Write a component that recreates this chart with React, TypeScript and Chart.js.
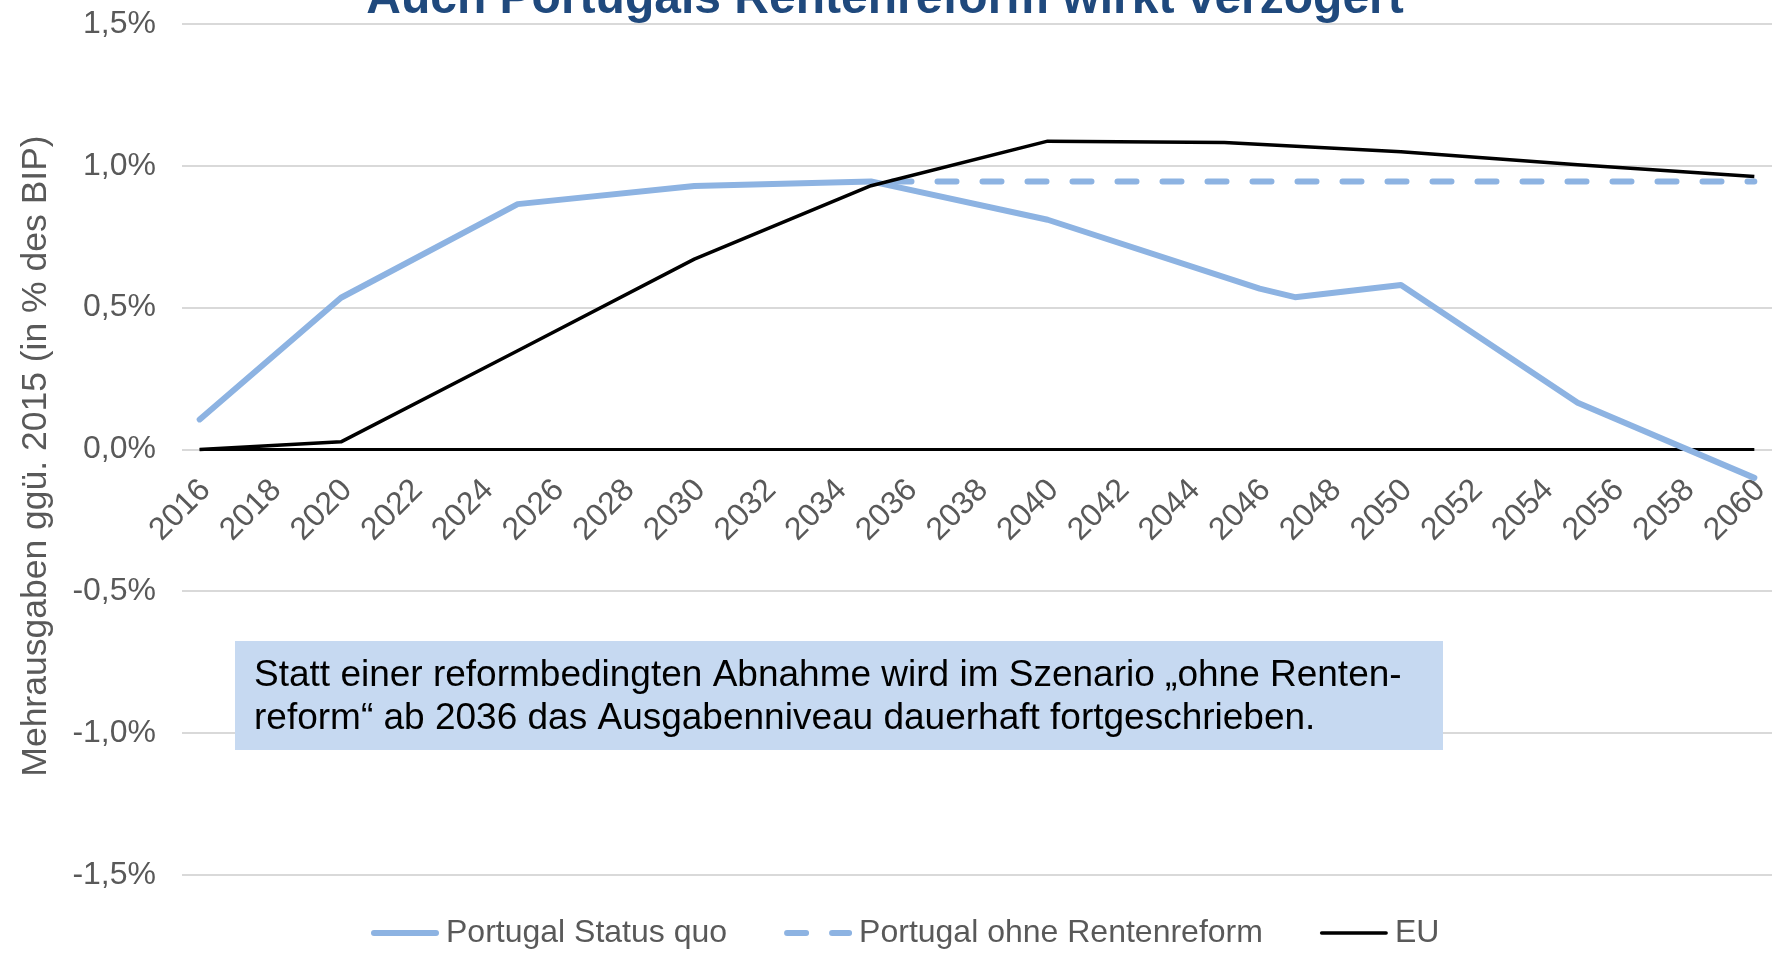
import React, { useEffect, useRef } from 'react';
import { Chart, registerables } from 'chart.js';

Chart.register(...registerables);

const FONT = '"Liberation Sans", Arial, sans-serif';

const years = [
  '2016', '2017', '2018', '2019', '2020', '2021', '2022', '2023', '2024', '2025',
  '2026', '2027', '2028', '2029', '2030', '2031', '2032', '2033', '2034', '2035',
  '2036', '2037', '2038', '2039', '2040', '2041', '2042', '2043', '2044', '2045',
  '2046', '2047', '2048', '2049', '2050', '2051', '2052', '2053', '2054', '2055',
  '2056', '2057', '2058', '2059', '2060',
];

// values in % of GDP, null = no reading (line spans straight across)
const statusQuo = [
  0.106, null, null, null, 0.535, null, null, null, null, 0.865,
  null, null, null, null, 0.929, null, null, null, null, 0.945,
  null, null, null, null, 0.81, null, null, null, null, null,
  0.567, 0.537, null, null, 0.58, null, null, null, null, 0.165,
  null, null, null, null, -0.1,
];

const ohneReform = [
  null, null, null, null, null, null, null, null, null, null,
  null, null, null, null, null, null, null, null, null, 0.945,
  null, null, null, null, 0.945, null, null, null, null, 0.945,
  null, null, null, null, 0.945, null, null, null, null, 0.945,
  null, null, null, null, 0.945,
];

const eu = [
  0.0, null, null, null, 0.027, null, null, null, null, 0.348,
  null, null, null, null, 0.671, null, null, null, null, 0.93,
  null, null, null, null, 1.087, null, null, null, null, 1.082,
  null, null, null, null, 1.05, null, null, null, null, 1.004,
  null, null, null, null, 0.962,
];

const zeroLine = [
  0, null, null, null, null, null, null, null, null, null,
  null, null, null, null, null, null, null, null, null, null,
  null, null, null, null, null, null, null, null, null, null,
  null, null, null, null, null, null, null, null, null, null,
  null, null, null, null, 0,
];

const seriesNames = ['Portugal Status quo', 'Portugal ohne Rentenreform', 'EU'];
const titleText = 'Auch Portugals Rentenreform wirkt verzögert';
const yTitleText = 'Mehrausgaben ggü. 2015 (in % des BIP)';
const noteLines = [
  'Statt einer reformbedingten Abnahme wird im Szenario „ohne Renten-',
  'reform“ ab 2036 das Ausgabenniveau dauerhaft fortgeschrieben.',
];

const BLUE = '#8DB3E2';
const GREY_TEXT = '#595959';

const overlayPlugin = {
  id: 'overlay',
  afterDraw(chart: any) {
    const ctx = chart.ctx as CanvasRenderingContext2D;
    ctx.save();
    // title
    ctx.font = `bold 48px ${FONT}`;
    ctx.fillStyle = '#1F497D';
    ctx.textAlign = 'center';
    ctx.textBaseline = 'alphabetic';
    ctx.fillText(titleText, 885, 13);

    // y axis title
    ctx.save();
    ctx.translate(36, 456);
    ctx.rotate(-Math.PI / 2);
    ctx.font = `35.5px ${FONT}`;
    ctx.fillStyle = GREY_TEXT;
    ctx.textAlign = 'center';
    ctx.textBaseline = 'middle';
    ctx.fillText(yTitleText, 0, 0);
    ctx.restore();

    // note box
    ctx.fillStyle = '#C6D9F1';
    ctx.fillRect(235, 641, 1208, 109);
    ctx.fillStyle = '#000000';
    ctx.font = `37px ${FONT}`;
    ctx.textAlign = 'left';
    ctx.textBaseline = 'middle';
    ctx.fillText(noteLines[0], 254, 676);
    ctx.fillText(noteLines[1], 254, 719);

    // legend
    const ly = 933;
    let x = 371;
    ctx.font = `32px ${FONT}`;
    for (let i = 0; i < 3; i++) {
      const ds = chart.data.datasets[i];
      ctx.beginPath();
      ctx.strokeStyle = ds.borderColor;
      ctx.lineWidth = ds.borderWidth;
      ctx.lineCap = 'round';
      ctx.setLineDash(ds.borderDash || []);
      ctx.lineDashOffset = 0;
      const hw = ds.borderWidth / 2;
      ctx.moveTo(x + hw, ly);
      ctx.lineTo(x + 68 - hw, ly);
      ctx.stroke();
      ctx.setLineDash([]);
      ctx.fillStyle = GREY_TEXT;
      ctx.textAlign = 'left';
      ctx.textBaseline = 'middle';
      ctx.fillText(ds.label, x + 75, ly);
      x += 75 + ctx.measureText(ds.label).width + 57;
    }
    ctx.restore();
  },
};

export default function App() {
  const canvasRef = useRef<HTMLCanvasElement | null>(null);

  useEffect(() => {
    if (!canvasRef.current) return;
    const chart = new Chart(canvasRef.current, {
      type: 'line',
      data: {
        labels: years,
        datasets: [
          {
            label: seriesNames[0],
            data: statusQuo,
            borderColor: BLUE,
            backgroundColor: BLUE,
            borderWidth: 6,
            borderCapStyle: 'round',
            borderJoinStyle: 'round',
            pointRadius: 0,
            spanGaps: true,
            order: 2,
          },
          {
            label: seriesNames[1],
            data: ohneReform,
            borderColor: BLUE,
            backgroundColor: BLUE,
            borderWidth: 6,
            borderDash: [19, 26],
            borderDashOffset: 23.5,
            borderCapStyle: 'round',
            pointRadius: 0,
            spanGaps: true,
            order: 1,
          },
          {
            label: seriesNames[2],
            data: eu,
            borderColor: '#000000',
            backgroundColor: '#000000',
            borderWidth: 3.5,
            borderJoinStyle: 'round',
            pointRadius: 0,
            spanGaps: true,
            order: 0,
          },
          {
            label: 'Null',
            data: zeroLine,
            borderColor: '#000000',
            backgroundColor: '#000000',
            borderWidth: 3,
            pointRadius: 0,
            spanGaps: true,
            order: 3,
          },
        ],
      },
      options: {
        responsive: false,
        animation: false,
        layout: { padding: { top: 24, right: 5, bottom: 84, left: 0 } },
        plugins: {
          legend: { display: false },
          title: { display: false },
          tooltip: { enabled: false },
        },
        scales: {
          x: {
            type: 'category',
            offset: true,
            position: { y: 0 },
            grid: { display: false },
            border: { display: false },
            afterFit: (scale: any) => {
              scale.height = 0;
              scale.paddingLeft = 0;
              scale.paddingRight = 0;
              scale.paddingTop = 0;
              scale.paddingBottom = 0;
            },
            ticks: {
              autoSkip: false,
              maxRotation: 45,
              minRotation: 45,
              padding: 14,
              labelOffset: 6,
              color: GREY_TEXT,
              font: { family: FONT, size: 32 },
              callback: (_v: any, i: number) => (i % 2 === 0 ? years[i] : ''),
            },
          },
          y: {
            min: -1.5,
            max: 1.5,
            afterFit: (scale: any) => {
              scale.width = 182;
              scale.paddingTop = 0;
              scale.paddingBottom = 0;
              scale.paddingLeft = 0;
              scale.paddingRight = 0;
            },
            grid: { color: '#D9D9D9', lineWidth: 2, drawTicks: false },
            border: { display: false },
            ticks: {
              stepSize: 0.5,
              padding: 26,
              color: GREY_TEXT,
              font: { family: FONT, size: 32 },
              callback: (v: any) => Number(v).toFixed(1).replace('.', ',') + '%',
            },
            title: { display: false },
          },
        },
      },
      plugins: [overlayPlugin],
    } as any);
    return () => chart.destroy();
  }, []);

  return (
    <div style={{ position: 'fixed', left: 0, top: 0, width: 1777, height: 959, background: '#fff' }}>
      <canvas ref={canvasRef} width={1777} height={959} style={{ display: 'block' }} />
    </div>
  );
}
